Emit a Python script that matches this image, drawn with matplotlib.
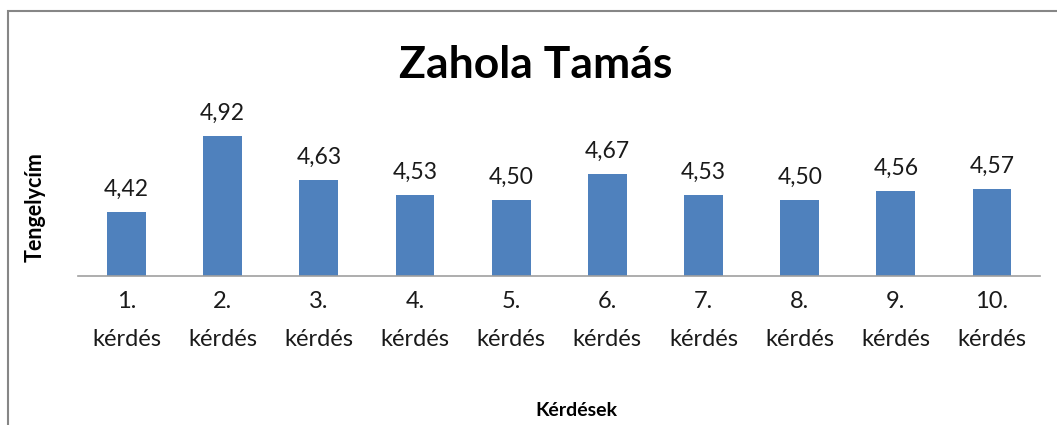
import matplotlib.pyplot as plt
from matplotlib.patches import Rectangle

plt.rcParams['font.family'] = ['Lato', 'DejaVu Sans']

kerdesek = ['1.\nkérdés', '2.\nkérdés', '3.\nkérdés', '4.\nkérdés', '5.\nkérdés',
            '6.\nkérdés', '7.\nkérdés', '8.\nkérdés', '9.\nkérdés', '10.\nkérdés']
atlag = [4.42, 4.92, 4.63, 4.53, 4.50, 4.67, 4.53, 4.50, 4.56, 4.57]

fig = plt.figure(figsize=(10.57, 4.25), dpi=100)
ax = fig.add_axes([0.0742, 0.3506, 0.9098, 0.39])

x = range(len(atlag))
bars = ax.bar(x, atlag, width=0.405, color='#4f81bd', bottom=0)
ax.set_ylim(4.0, 5.09)
ax.set_xlim(-0.5, len(atlag) - 0.5)

for xi, v in zip(x, atlag):
    ax.text(xi, v + 0.08, f'{v:.2f}'.replace('.', ','), ha='center', va='bottom',
            fontsize=16.5, color='#1a1a1a')

ax.set_xticks(list(x))
ax.set_xticklabels(kerdesek, fontsize=17, linespacing=2.0, color='#1a1a1a')
ax.tick_params(axis='x', length=0, pad=11)
ax.set_yticks([])
for s in ['top', 'right', 'left']:
    ax.spines[s].set_visible(False)
ax.spines['bottom'].set_color('#a0a0a0')
ax.spines['bottom'].set_linewidth(1.2)

fig.text(0.507, 0.848, 'Zahola Tamás', ha='center', va='center',
         fontsize=32, fontweight='bold')
fig.text(0.545, 0.035, 'Kérdések', ha='center', va='center',
         fontsize=14, fontweight='bold')
fig.text(0.033, 0.512, 'Tengelycím', ha='center', va='center', rotation=90,
         fontsize=15.5, fontweight='bold')

fig.patches.append(Rectangle((8 / 1057, -0.1), 1.2, 1 - 11 / 425 + 0.1,
                             transform=fig.transFigure, fill=False,
                             edgecolor='#868686', linewidth=1.5))

fig.savefig('out.png', dpi=100)
